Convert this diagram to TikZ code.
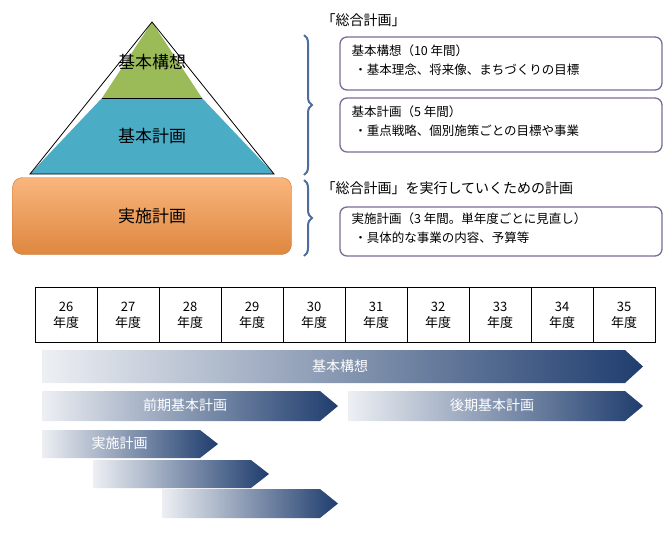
\documentclass[tikz,border=0pt]{standalone}
\usepackage{fontspec}
\setmainfont{Noto Sans CJK JP}
\usetikzlibrary{decorations.pathreplacing,calc}
\definecolor{navy}{HTML}{1F3D6E}
\definecolor{gr}{HTML}{9BBB59}
\definecolor{bl}{HTML}{4BACC6}
\definecolor{org}{HTML}{F79646}
\definecolor{brc}{HTML}{4F6C9E}
\definecolor{pur}{HTML}{7B6C96}
\tikzset{
 infobox/.style={draw=pur,line width=1.3pt,rounded corners=7pt},
 cell/.style={draw,minimum width=62pt,minimum height=55pt,inner sep=0pt,align=center,font=\fontsize{13}{16}\selectfont},
 brk/.style={draw=brc,line width=2pt,decorate,decoration={brace,amplitude=8pt}},
 arlab/.style={text=white,font=\fontsize{14}{16}\selectfont},
}
\newcommand{\garrow}[4]{% x1,y1,x2,y2
 \shade[left color=navy!8,right color=navy] (#1,#2) -- ({#3-18},#2) -- (#3,{(#2+#4)/2}) -- ({#3-18},#4) -- (#1,#4) -- cycle;}
\begin{document}
\begin{tikzpicture}[x=1pt,y=-1pt]
\useasboundingbox (0,0) rectangle (671,547);
% pyramid
\fill[gr] (152,22) -- (202,98) -- (102,98) -- cycle;
\fill[bl] (102,98) -- (202,98) -- (274,174) -- (30,174) -- cycle;
\draw[line width=0.8pt] (152,22) -- (274,174) -- (30,174) -- cycle;
\draw[line width=0.6pt] (102,98) -- (202,98);
\node (p1) at (152,62) {\fontsize{17}{20}\selectfont 基本構想};
\node (p2) at (152,136) {\fontsize{17}{20}\selectfont 基本計画};
\node[draw=org!80!black,top color=org!70,bottom color=org!90!black,rounded corners=10pt,minimum width=279pt,minimum height=77pt,inner sep=0pt] (p3) at (152,216) {\fontsize{17}{20}\selectfont 実施計画};
% braces
\draw[brk] (304,35) -- (304,175);
\draw[brk] (304,180) -- (304,256);
\node[anchor=west,font=\fontsize{14}{16}\selectfont] (t1) at (318,20) {「総合計画」};
\node[anchor=west,font=\fontsize{14}{16}\selectfont] (t2) at (318,188) {「総合計画」を実行していくための計画};
\draw[infobox] (340,37) rectangle (662,90);
\node[anchor=north west,align=left,font=\fontsize{12.5}{19}\selectfont] (b1) at (348,41) {基本構想（10 年間）\\\ ・基本理念、将来像、まちづくりの目標};
\draw[infobox] (340,98) rectangle (662,152);
\node[anchor=north west,align=left,font=\fontsize{12.5}{19}\selectfont] (b2) at (348,102) {基本計画（5 年間）\\\ ・重点戦略、個別施策ごとの目標や事業};
\draw[infobox] (340,207) rectangle (662,256);
\node[anchor=north west,align=left,font=\fontsize{12.5}{19}\selectfont] (b3) at (348,209) {実施計画（3 年間。単年度ごとに見直し）\\\ ・具体的な事業の内容、予算等};
% timeline
\foreach \y [count=\i from 0] in {26,...,35}
  \node[cell] (c\i) at ({35+31+62*\i},315) {\y\\年度};
\garrow{42}{350}{643}{383}
\node[arlab] (a1) at (340,366) {基本構想};
\garrow{42}{391}{338}{421}
\node[arlab] (a2) at (185,405) {前期基本計画};
\garrow{348}{391}{643}{421}
\node[arlab] (a3) at (492,405) {後期基本計画};
\garrow{42}{430}{218}{458}
\node[arlab,anchor=west] (a4) at (88,443) {実施計画};
\garrow{93}{460}{269}{488}
\garrow{162}{489}{338}{518}
\end{tikzpicture}
\end{document}
